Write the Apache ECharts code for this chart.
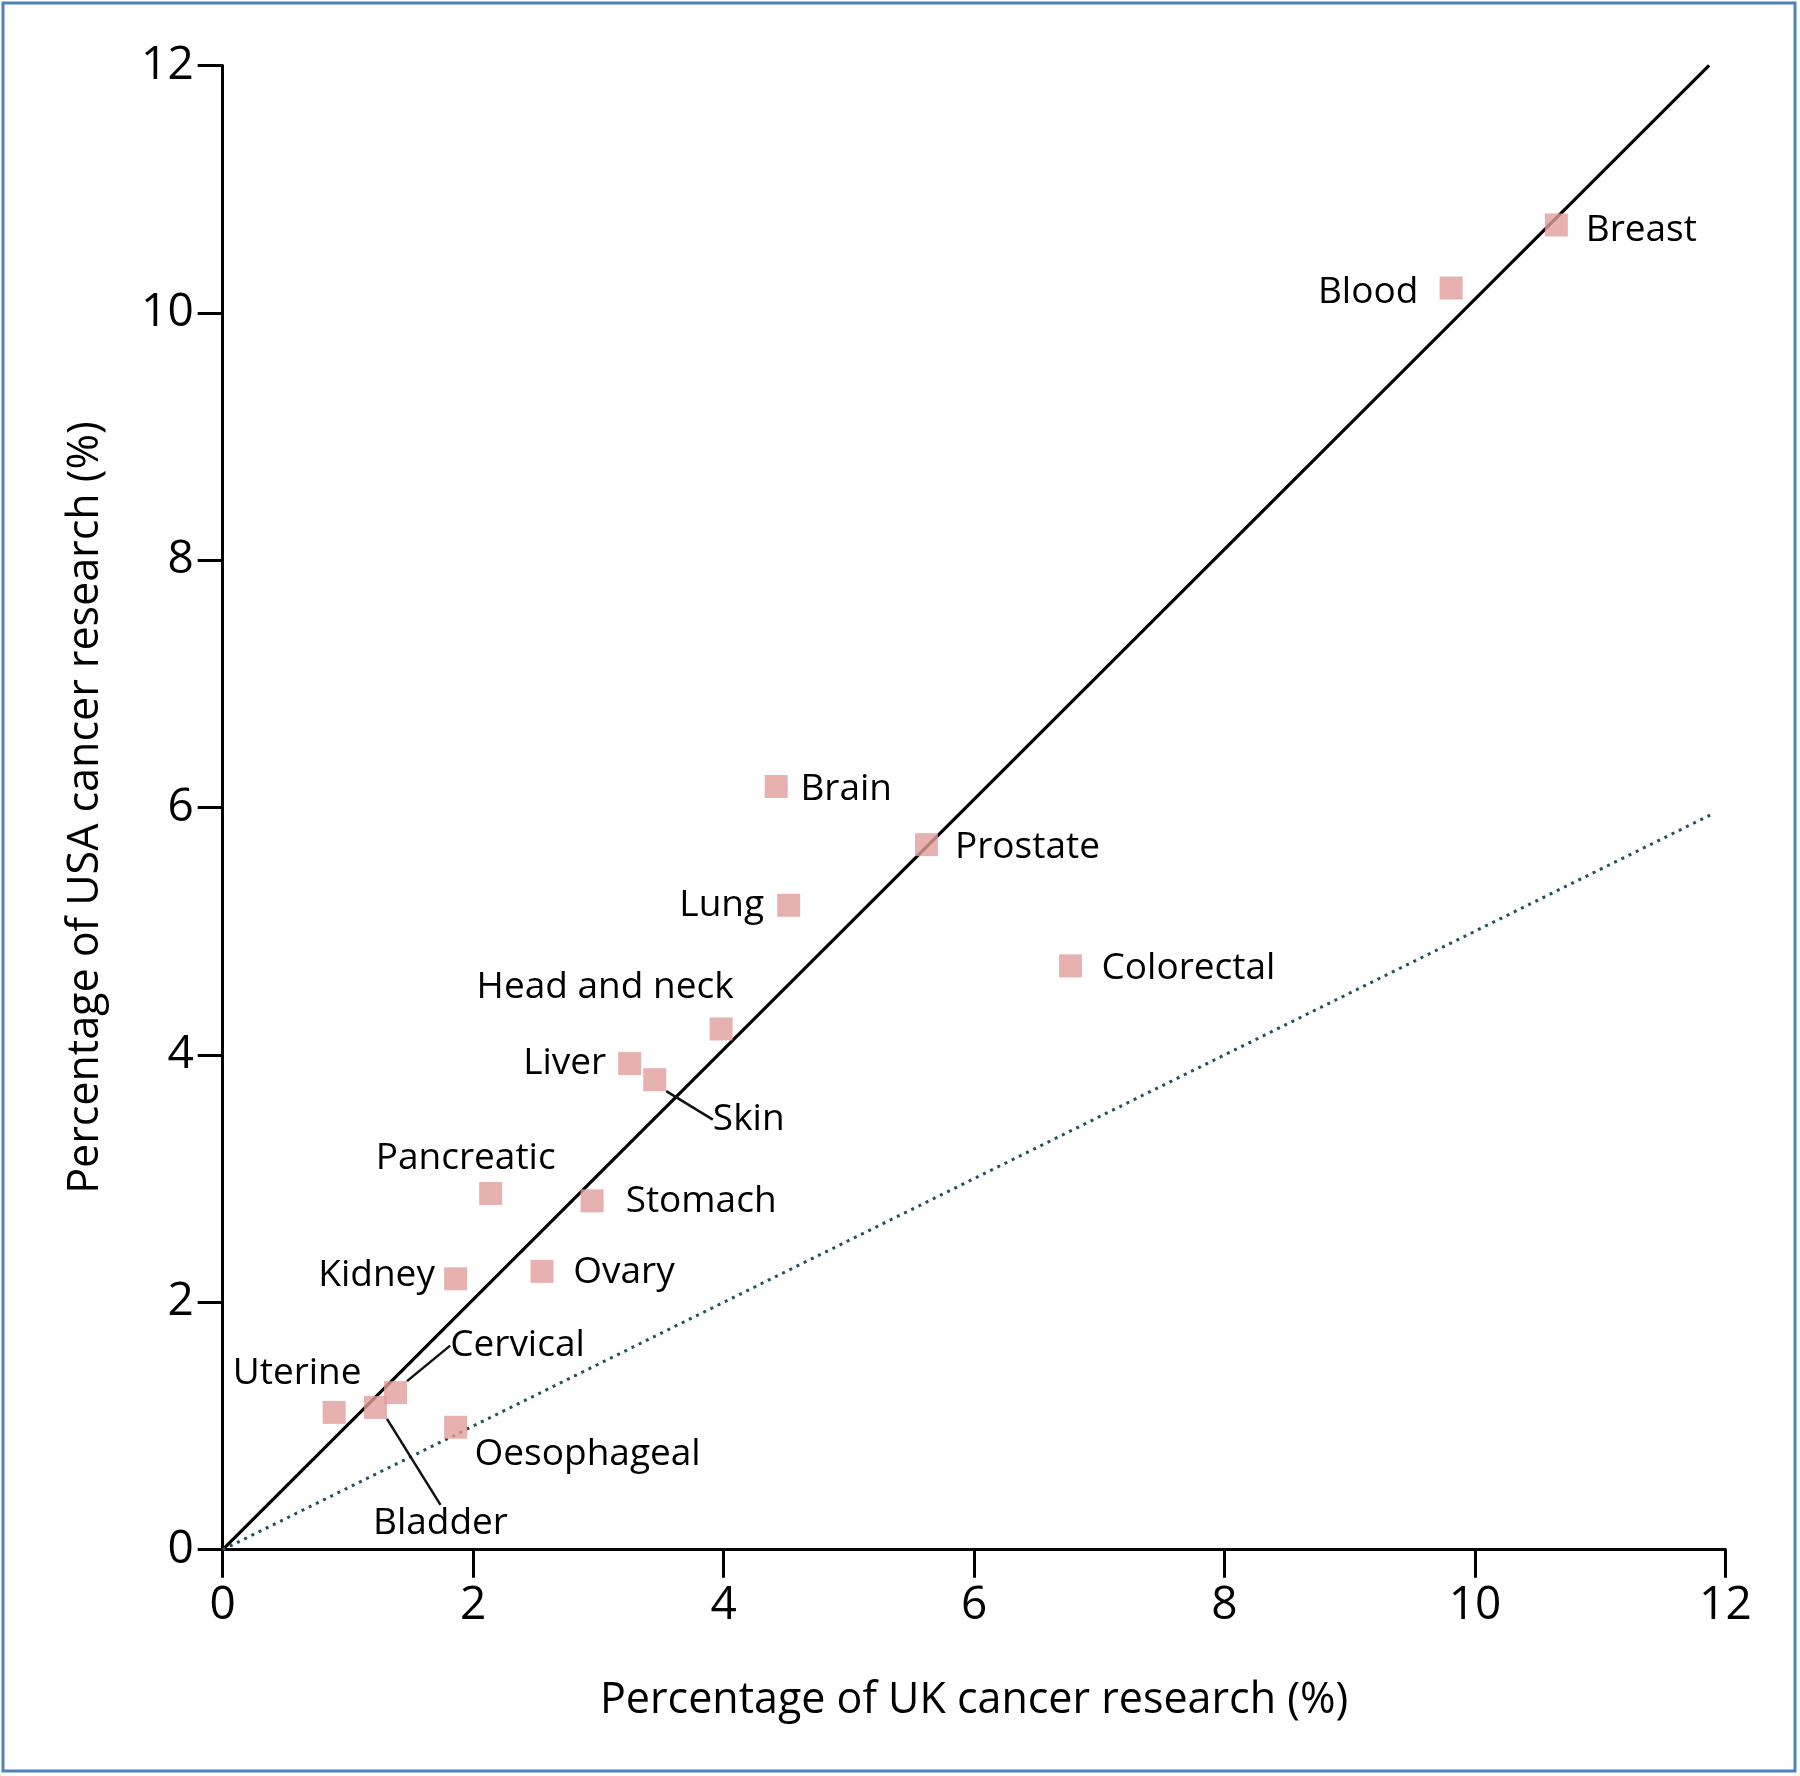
<!DOCTYPE html>
<html>
<head>
<meta charset="utf-8">
<script src="https://cdn.jsdelivr.net/npm/echarts@6/dist/echarts.min.js"></script>
<style>
html,body{margin:0;padding:0;background:#fff;}
#chart{width:1800px;height:1776px;}
</style>
</head>
<body>
<div id="chart"></div>
<script>
// ---- data ----
const cancerTypes = ['Breast','Blood','Brain','Prostate','Lung','Colorectal','Head and neck','Liver','Skin','Pancreatic','Stomach','Ovary','Kidney','Uterine','Bladder','Cervical','Oesophageal'];
const ukPercent  = [10.65, 9.81, 4.42, 5.62, 4.52, 6.77, 3.98, 3.25, 3.45, 2.14, 2.95, 2.55, 1.86, 0.89, 1.22, 1.38, 1.86];
const usaPercent = [10.71,10.20, 6.17, 5.70, 5.21, 4.72, 4.21, 3.93, 3.80, 2.88, 2.82, 2.25, 2.19, 1.11, 1.15, 1.27, 0.99];
const equalLineX = [0, 11.87];
const equalLineY = [0, 12];
const halfLineX  = [0, 11.9];
const halfLineY  = [0, 5.95];
const xTicks = [0, 2, 4, 6, 8, 10, 12];
const yTicks = [0, 2, 4, 6, 8, 10, 12];

// ---- label placement (pixels, styling only) ----
const labelOffsets = {
  'Breast':[85,5], 'Blood':[-83,4], 'Brain':[70,3], 'Prostate':[101,3], 'Lung':[-67,0],
  'Colorectal':[118,3], 'Head and neck':[-116,-42], 'Liver':[-65,0], 'Skin':[94,40],
  'Pancreatic':[-25,-35], 'Stomach':[109,1], 'Ovary':[82,1], 'Kidney':[-79,-3],
  'Uterine':[-37,-39], 'Bladder':[65,116], 'Cervical':[122,-47], 'Oesophageal':[132,27]
};
const leaderLines = ['Skin','Bladder','Cervical'];

const FONT = 'Open Sans';
const chart = echarts.init(document.getElementById('chart'));

const scatterData = cancerTypes.map((name, i) => {
  const item = { name: name, value: [ukPercent[i], usaPercent[i]] };
  if (leaderLines.indexOf(name) >= 0) {
    item.labelLine = { show: true, lineStyle: { color: '#111', width: 2.5 } };
  }
  return item;
});

chart.setOption({
  animation: false,
  backgroundColor: '#fff',
  graphic: [{
    type: 'rect', silent: true,
    shape: { x: 3, y: 3, width: 1792, height: 1768 },
    style: { fill: 'none', stroke: '#4f81bd', lineWidth: 3 }
  }],
  grid: { left: 222.7, right: 74.6, top: 65.4, bottom: 226.3 },
  xAxis: {
    type: 'value', min: 0, max: 12, interval: 2,
    name: 'Percentage of UK cancer research (%)',
    nameLocation: 'middle', nameGap: 130,
    nameTextStyle: { fontFamily: FONT, fontSize: 43, color: '#000' },
    axisLine: { onZero: false, lineStyle: { color: '#000', width: 3 } },
    axisTick: { show: true, length: 28, lineStyle: { color: '#000', width: 3 } },
    axisLabel: { margin: 33, fontFamily: FONT, fontSize: 46, color: '#000',
      customValues: xTicks },
    splitLine: { show: false }
  },
  yAxis: {
    type: 'value', min: 0, max: 12, interval: 2,
    name: 'Percentage of USA cancer research (%)',
    nameLocation: 'middle', nameGap: 115, nameRotate: 90,
    nameTextStyle: { fontFamily: FONT, fontSize: 43, color: '#000' },
    axisLine: { onZero: false, lineStyle: { color: '#000', width: 3 } },
    axisTick: { show: true, length: 25, lineStyle: { color: '#000', width: 3 } },
    axisLabel: { margin: 29, fontFamily: FONT, fontSize: 46, color: '#000',
      customValues: yTicks },
    splitLine: { show: false }
  },
  series: [
    {
      type: 'line', silent: true, showSymbol: false, symbol: 'none',
      data: equalLineX.map((x, i) => [x, equalLineY[i]]),
      lineStyle: { color: '#000', width: 3.2 }, z: 2
    },
    {
      type: 'line', silent: true, showSymbol: false, symbol: 'none',
      data: halfLineX.map((x, i) => [x, halfLineY[i]]),
      lineStyle: { color: '#24505e', width: 3, type: [3, 5] }, z: 2
    },
    {
      type: 'scatter', symbol: 'rect', symbolSize: 23, z: 3,
      itemStyle: { color: '#e09d9b' },
      data: scatterData,
      label: {
        show: true, position: 'inside', formatter: '{b}',
        fontFamily: FONT, fontSize: 37, color: '#000',
        textBorderWidth: 0, opacity: 1
      },
      labelLine: { show: false },
      labelLayout: function (p) {
        const off = labelOffsets[cancerTypes[p.dataIndex]];
        return { dx: off[0], dy: off[1] };
      }
    }
  ]
});
</script>
</body>
</html>
